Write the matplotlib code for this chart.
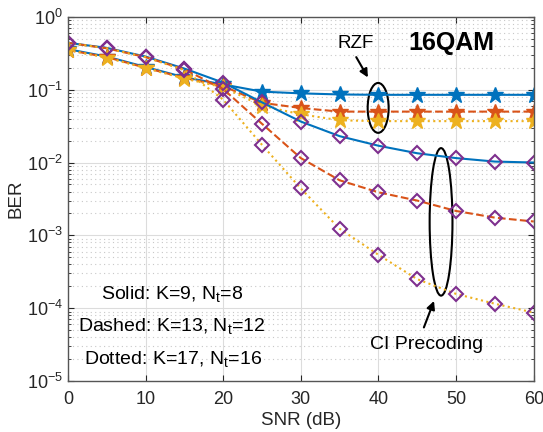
import numpy as np
import matplotlib
matplotlib.use('Agg')
import matplotlib.pyplot as plt
from matplotlib.patches import Ellipse
from matplotlib.ticker import LogLocator, NullFormatter

plt.rcParams['font.family'] = ['Liberation Sans', 'DejaVu Sans']

snr = [0, 5, 10, 15, 20, 25, 30, 35, 40, 45, 50, 55, 60]

# RZF (stars)
rzf_k9 = [0.36, 0.285, 0.205, 0.148, 0.118, 0.094, 0.089, 0.086, 0.085, 0.085, 0.085, 0.085, 0.085]
rzf_k13 = [0.35, 0.28, 0.20, 0.145, 0.112, 0.066, 0.056, 0.050, 0.050, 0.050, 0.050, 0.050, 0.050]
rzf_k17 = [0.35, 0.275, 0.198, 0.142, 0.108, 0.060, 0.046, 0.038, 0.037, 0.037, 0.037, 0.037, 0.037]

# CI precoding (diamonds)
ci_k9 = [0.44, 0.375, 0.285, 0.195, 0.125, 0.067, 0.0365, 0.023, 0.017, 0.0134, 0.0115, 0.0103, 0.0100]
ci_k13 = [0.44, 0.37, 0.28, 0.19, 0.102, 0.034, 0.0115, 0.0057, 0.0039, 0.0030, 0.00216, 0.00175, 0.00155]
ci_k17 = [0.44, 0.37, 0.28, 0.185, 0.073, 0.0175, 0.0044, 0.00123, 0.00054, 0.00025, 0.000157, 0.000115, 0.000087]

blue = '#0072BD'
orange = '#D95319'
yellow = '#EDB120'
purple = '#7E2F8E'

fig = plt.figure(figsize=(5.43, 4.32), dpi=100)
ax = fig.add_axes([0.125, 0.118, 0.858, 0.843])

ax.semilogy(snr, rzf_k9, '-', color=blue, lw=1.5, marker='*', ms=12, mfc=blue, mec=blue)
ax.semilogy(snr, rzf_k13, '--', color=orange, lw=1.5, marker='*', ms=12, mfc=orange, mec=orange)
ax.semilogy(snr, rzf_k17, ':', color=yellow, lw=1.5, marker='*', ms=12, mfc=yellow, mec=yellow)

ax.semilogy(snr, ci_k9, '-', color=blue, lw=1.5, marker='D', ms=7, mfc='none', mec=purple, mew=1.5)
ax.semilogy(snr, ci_k13, '--', color=orange, lw=1.5, marker='D', ms=7, mfc='none', mec=purple, mew=1.5)
ax.semilogy(snr, ci_k17, ':', color=yellow, lw=1.5, marker='D', ms=7, mfc='none', mec=purple, mew=1.5)

ax.set_xlim(0, 60)
ax.set_ylim(1e-5, 1)
ax.set_xticks(range(0, 61, 10))
ax.yaxis.set_major_locator(LogLocator(base=10, numticks=10))
ax.yaxis.set_minor_locator(LogLocator(base=10, subs=np.arange(2, 10), numticks=20))
ax.yaxis.set_minor_formatter(NullFormatter())

ax.grid(True, which='major', color='#dcdcdc', lw=0.8, ls='-')
ax.grid(True, which='minor', axis='y', color='#c8c8c8', lw=0.8, ls=(0, (1, 3)))
ax.set_axisbelow(True)

for s in ax.spines.values():
    s.set_color('#555555')
    s.set_linewidth(1.0)
ax.tick_params(which='both', direction='in', top=True, right=True, colors='#262626',
               labelsize=13)
ax.tick_params(which='major', length=4.5)
ax.tick_params(which='minor', length=2.5)
ax.tick_params(axis='x', which='major', pad=7)

ax.set_xlabel('SNR (dB)', fontsize=13.5, color='#262626', labelpad=3)
ax.set_ylabel('BER', fontsize=13.5, color='#262626', labelpad=2)

# annotations
ax.text(0.618, 0.928, 'RZF', transform=ax.transAxes, ha='center', va='center', fontsize=13.5)
ax.text(0.823, 0.928, '16QAM', transform=ax.transAxes, ha='center', va='center',
        fontsize=18, fontweight='bold')
ax.text(0.770, 0.099, 'CI Precoding', transform=ax.transAxes, ha='center', va='center', fontsize=14)

ax.add_patch(Ellipse((0.666, 0.75), 0.045, 0.137, transform=ax.transAxes,
                     fill=False, ec='k', lw=1.5))
ax.add_patch(Ellipse((0.801, 0.437), 0.049, 0.405, transform=ax.transAxes,
                     fill=False, ec='k', lw=1.5))

ax.annotate('', xy=(0.647, 0.827), xytext=(0.616, 0.896), xycoords='axes fraction',
            arrowprops=dict(arrowstyle='-|>', color='k', lw=1.5, mutation_scale=12))
ax.annotate('', xy=(0.788, 0.227), xytext=(0.762, 0.140), xycoords='axes fraction',
            arrowprops=dict(arrowstyle='-|>', color='k', lw=1.5, mutation_scale=12))

ax.text(0.223, 0.238, 'Solid: K=9, N$_\\mathregular{t}$=8', transform=ax.transAxes,
        ha='center', va='center', fontsize=14)
ax.text(0.223, 0.148, 'Dashed: K=13, N$_\\mathregular{t}$=12', transform=ax.transAxes,
        ha='center', va='center', fontsize=14)
ax.text(0.226, 0.057, 'Dotted: K=17, N$_\\mathregular{t}$=16', transform=ax.transAxes,
        ha='center', va='center', fontsize=14)

fig.savefig('out.png', dpi=100)
